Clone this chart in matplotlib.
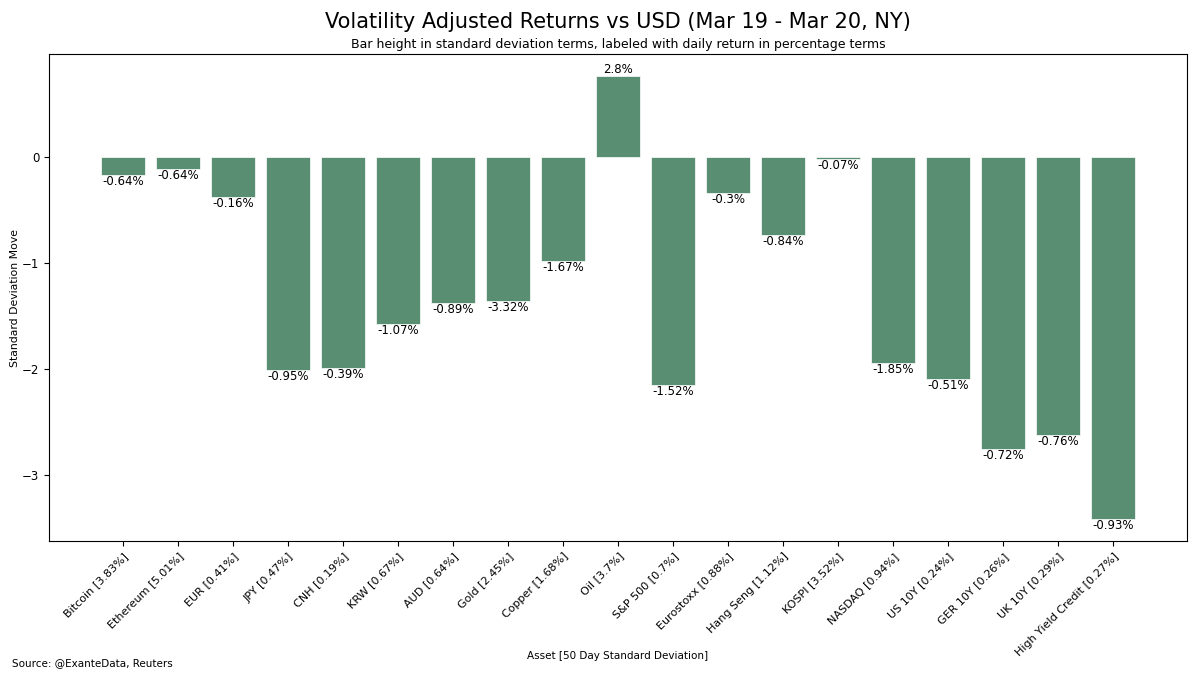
import matplotlib
matplotlib.use('Agg')
import matplotlib.pyplot as plt
import numpy as np

assets = ['Bitcoin', 'Ethereum', 'EUR', 'JPY', 'CNH', 'KRW', 'AUD', 'Gold',
          'Copper', 'Oil', 'S&P 500', 'Eurostoxx', 'Hang Seng', 'KOSPI',
          'NASDAQ', 'US 10Y', 'GER 10Y', 'UK 10Y', 'High Yield Credit']
std_50d = ['3.83', '5.01', '0.41', '0.47', '0.19', '0.67', '0.64', '2.45',
           '1.68', '3.7', '0.7', '0.88', '1.12', '3.52', '0.94', '0.24',
           '0.26', '0.29', '0.27']
sd_move = [-0.17, -0.12, -0.38, -2.01, -1.99, -1.58, -1.38, -1.36, -0.98,
           0.76, -2.15, -0.34, -0.74, -0.02, -1.95, -2.10, -2.76, -2.63, -3.42]
returns = ['-0.64', '-0.64', '-0.16', '-0.95', '-0.39', '-1.07', '-0.89',
           '-3.32', '-1.67', '2.8', '-1.52', '-0.3', '-0.84', '-0.07', '-1.85',
           '-0.51', '-0.72', '-0.76', '-0.93']

labels = ['%s [%s%%]' % (a, s) for a, s in zip(assets, std_50d)]
x = np.arange(len(assets))

fig = plt.figure(figsize=(12, 6.75), dpi=100)
ax = fig.add_subplot(111)
fig.subplots_adjust(left=0.041, right=0.989, top=0.92, bottom=0.198)

bars = ax.bar(x, sd_move, width=0.8, color='#5a8e73', edgecolor='white', linewidth=0.5)
for b, v, r in zip(bars, sd_move, returns):
    if v >= 0:
        ax.text(b.get_x() + b.get_width() / 2, v, r + '%', ha='center', va='bottom', fontsize=8.5)
    else:
        ax.text(b.get_x() + b.get_width() / 2, v, r + '%', ha='center', va='top', fontsize=8.5)

ax.set_xticks(x)
ax.set_xticklabels(labels, rotation=45, ha='right', rotation_mode='anchor', fontsize=8)
ax.set_yticks([-3, -2, -1, 0])
ax.tick_params(axis='y', labelsize=8.5)
ax.set_ylabel('Standard Deviation Move', fontsize=7.8, labelpad=1.5)
ax.set_xlabel('Asset [50 Day Standard Deviation]', fontsize=7.5)
ax.xaxis.set_label_coords(0.5, -0.226)

# titles centred over the axes, not the figure
fig.text(0.515, 0.967, 'Volatility Adjusted Returns vs USD (Mar 19 - Mar 20, NY)',
         ha='center', va='center', fontsize=15)
fig.text(0.515, 0.934, 'Bar height in standard deviation terms, labeled with daily return in percentage terms',
         ha='center', va='center', fontsize=9)
fig.text(0.01, 0.018, 'Source: @ExanteData, Reuters', ha='left', va='center', fontsize=7.5)

plt.savefig('out.png', dpi=100)
